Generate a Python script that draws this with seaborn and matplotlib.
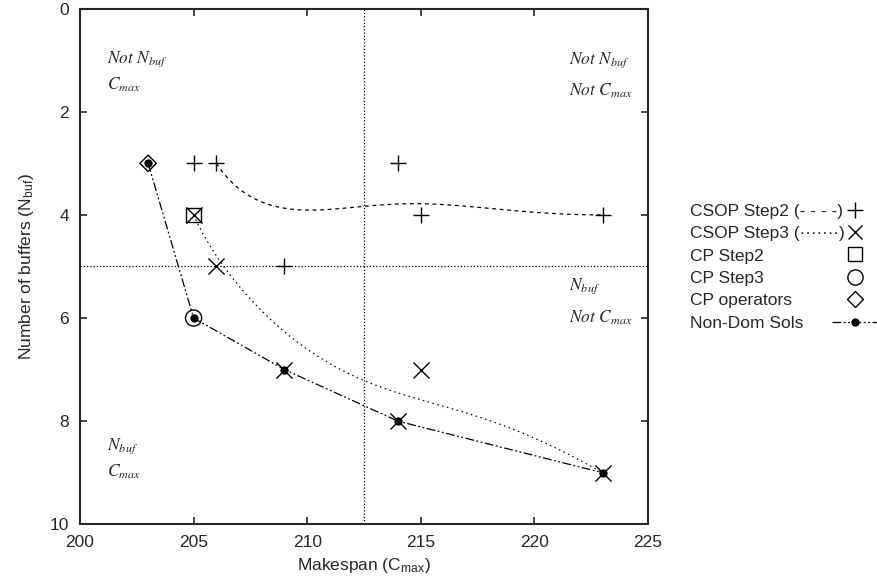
from math import comb

import numpy as np
import matplotlib
matplotlib.use('Agg')
import matplotlib.pyplot as plt
import seaborn as sns
from matplotlib.lines import Line2D

# 数据
csop2_x = [205, 206, 214, 215, 223, 209]
csop2_y = [3, 3, 3, 4, 4, 5]
# CSOP Step2 平滑曲线的控制点
csop2_curve_x = [206, 209, 214, 215, 223]
csop2_curve_y = [3, 5, 3, 4, 4]

csop3_x = [205, 206, 209, 214, 215, 223]
csop3_y = [4, 5, 7, 8, 7, 9]

cp2_x = [205]
cp2_y = [4]
cp3_x = [205]
cp3_y = [6]
cpop_x = [203]
cpop_y = [3]

nondom_x = [203, 205, 209, 214, 223]
nondom_y = [3, 6, 7, 8, 9]

x_ticks = [200, 205, 210, 215, 220, 225]
y_ticks = [0, 2, 4, 6, 8, 10]


# bezier 平滑（类似 gnuplot smooth bezier）
def bezier(xs, ys, n=200):
    xs = np.asarray(xs, float)
    ys = np.asarray(ys, float)
    k = len(xs) - 1
    t = np.linspace(0, 1, n)
    basis = np.array([comb(k, i) * t ** i * (1 - t) ** (k - i) for i in range(k + 1)])
    return basis.T @ xs, basis.T @ ys


sns.set_theme(style='ticks')
plt.rcParams['font.family'] = ['Liberation Sans', 'DejaVu Sans']
plt.rcParams['mathtext.fontset'] = 'stix'
plt.rcParams['axes.linewidth'] = 1.5

fig = plt.figure(figsize=(8.78, 5.84), dpi=100)
ax = fig.add_axes([0.0911, 0.1022, 0.647, 0.883])

# 参考线
ax.axvline(212.5, color='black', lw=0.9, linestyle=(0, (1, 1.6)))
ax.axhline(5, color='black', lw=0.9, linestyle=(0, (1, 1.6)))

# 平滑曲线
bx, by = bezier(csop2_curve_x, csop2_curve_y)
sns.lineplot(x=bx, y=by, sort=False, ax=ax, color='black', lw=0.9,
             linestyle=(0, (3, 3)), estimator=None)
bx, by = bezier(csop3_x, csop3_y)
sns.lineplot(x=bx, y=by, sort=False, ax=ax, color='black', lw=0.9,
             linestyle=(0, (1.2, 2.8)), estimator=None)

# 非支配解
sns.lineplot(x=nondom_x, y=nondom_y, sort=False, ax=ax, color='black', lw=0.9,
             linestyle=(0, (7, 2, 1.5, 2, 1.5, 2)), estimator=None,
             marker='o', markersize=6, markeredgewidth=0)

# 散点
sns.scatterplot(x=csop2_x, y=csop2_y, ax=ax, marker='+', color='black', s=135, linewidth=1)
sns.scatterplot(x=csop3_x, y=csop3_y, ax=ax, marker='x', color='black', s=135, linewidth=1)
sns.scatterplot(x=cp2_x, y=cp2_y, ax=ax, marker='s', facecolor='none', edgecolor='black', s=105, linewidth=1)
sns.scatterplot(x=cp3_x, y=cp3_y, ax=ax, marker='o', facecolor='none', edgecolor='black', s=135, linewidth=1)
sns.scatterplot(x=cpop_x, y=cpop_y, ax=ax, marker='D', facecolor='none', edgecolor='black', s=70, linewidth=1)

# 区域标注
txt_kw = dict(fontsize=12.5, va='center', ha='left')
ax.text(201.2, 0.98, r'$Not\ N_{buf}$', **txt_kw)
ax.text(201.2, 1.47, r'$C_{max}$', **txt_kw)
ax.text(221.5, 1.0, r'$Not\ N_{buf}$', **txt_kw)
ax.text(221.5, 1.6, r'$Not\ C_{max}$', **txt_kw)
ax.text(221.5, 5.39, r'$N_{buf}$', **txt_kw)
ax.text(221.5, 6.0, r'$Not\ C_{max}$', **txt_kw)
ax.text(201.2, 8.48, r'$N_{buf}$', **txt_kw)
ax.text(201.2, 8.98, r'$C_{max}$', **txt_kw)

ax.set_xlim(200, 225)
ax.set_ylim(10, 0)
ax.set_xticks(x_ticks)
ax.set_yticks(y_ticks)
ax.tick_params(direction='in', length=5, width=1.2, top=True, right=True, labelsize=12.5, pad=8)
ax.set_xlabel(r'Makespan (C$_{\mathregular{max}}$)', fontsize=12.5, labelpad=4)
ax.set_ylabel(r'Number of buffers (N$_{\mathregular{buf}}$)', fontsize=12.5, labelpad=10)

# 图例（文字左对齐，符号在右）
handles = [
    Line2D([], [], color='black', marker='+', markersize=11.5, linestyle='none', markeredgewidth=1),
    Line2D([], [], color='black', marker='x', markersize=10, linestyle='none', markeredgewidth=1),
    Line2D([], [], color='black', marker='s', markersize=10, markerfacecolor='none', linestyle='none', markeredgewidth=1),
    Line2D([], [], color='black', marker='o', markersize=11, markerfacecolor='none', linestyle='none', markeredgewidth=1),
    Line2D([], [], color='black', marker='D', markersize=8, markerfacecolor='none', linestyle='none', markeredgewidth=1),
    Line2D([], [], color='black', marker='o', markersize=6, markeredgewidth=0, lw=0.9,
           linestyle=(0, (7, 2, 1.5, 2, 1.5, 2))),
]
labels = ['CSOP Step2 (- - - -)', 'CSOP Step3 (·······)', 'CP Step2', 'CP Step3',
          'CP operators', 'Non-Dom Sols']
leg = fig.legend(handles, labels, loc='center left', bbox_to_anchor=(0.7859, 0.5425),
                 frameon=False, markerfirst=False, fontsize=12.5, handlelength=2.65,
                 labelspacing=0.42, handletextpad=0.4, borderpad=0, borderaxespad=0)
for col in leg._legend_handle_box.get_children():
    for item in col.get_children():
        item.mode = 'expand'
        item.width = 188

plt.savefig('out.png', dpi=100)
